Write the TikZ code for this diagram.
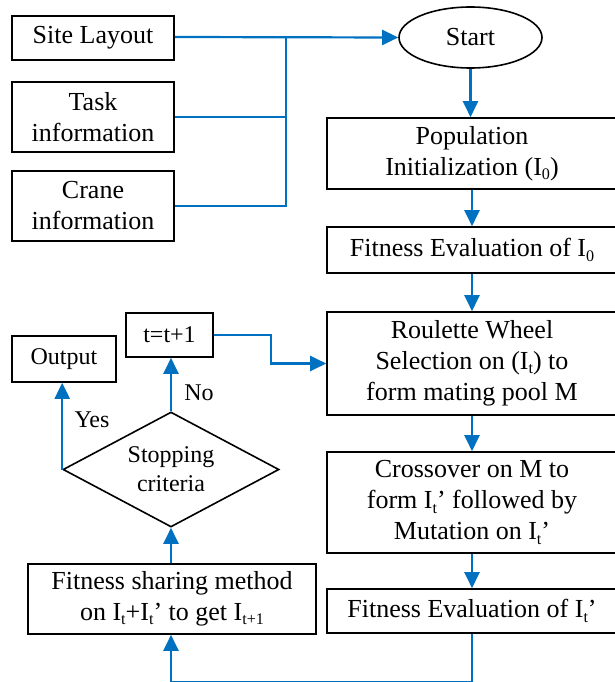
\documentclass[tikz,border=0pt]{standalone}
\usepackage{fontspec}
\setmainfont{Liberation Serif}
\usetikzlibrary{shapes.geometric,arrows.meta}
\definecolor{flowblue}{RGB}{0,112,192}
\newcommand\sbx[1]{\raisebox{-0.35ex}{\scalebox{0.62}{#1}}}
\begin{document}
\begin{tikzpicture}[x=1pt,y=-1pt,
  box/.style={draw=black, line width=1.6pt, rectangle, inner sep=0pt,
    align=center, font=\fontsize{26}{31}\selectfont},
  smallbox/.style={box, font=\fontsize{24}{29}\selectfont},
  flow/.style={draw=flowblue, line width=2.2pt},
  flowarrow/.style={flow, -{Triangle[length=16pt,width=15pt]}},
  lbl/.style={font=\fontsize{24}{29}\selectfont, inner sep=0pt}]
\useasboundingbox (0,0) rectangle (615,682);

% inputs
\node[box, minimum width=162, minimum height=44] (site) at (93,38) {Site Layout};
\node[box, minimum width=162, minimum height=70] (task) at (93,117) {Task\\information};
\node[box, minimum width=162, minimum height=70] (crane) at (93,206) {Crane\\information};

% main column
\node[box, ellipse, minimum width=143, minimum height=61] (start) at (470.5,37.5) {Start};
\node[box, minimum width=290, minimum height=71] (pop) at (472,153.5) {Population\\Initialization (I\sbx{0})};
\node[box, minimum width=290, minimum height=46] (fe0) at (472,250) {Fitness Evaluation of I\sbx{0}};
\node[box, minimum width=290, minimum height=103] (roul) at (472,363.5) {Roulette Wheel\\Selection on (I\sbx{t}) to\\form mating pool M};
\node[box, minimum width=290, minimum height=101] (cross) at (472,502.5) {Crossover on M to\\form I\sbx{t}’ followed by\\Mutation on I\sbx{t}’};
\node[box, minimum width=290, minimum height=44] (fe1) at (472,611) {Fitness Evaluation of I\sbx{t}’};

% loop column
\node[box, minimum width=288, minimum height=70] (share) at (172,599) {Fitness sharing method\\on I\sbx{t}+I\sbx{t}’ to get I\sbx{t+1}};
\node[smallbox, diamond, aspect=1.88, minimum width=216, minimum height=115] (stop) at (171,469.5) {Stopping\\criteria};
\node[smallbox, minimum width=104, minimum height=46] (out) at (64,359) {Output};
\node[smallbox, minimum width=87, minimum height=44] (tinc) at (169.5,335) {t=t+1};

% connectors
\coordinate (join) at (286,37);
\draw[flowarrow] (site.east |- join) -- (start.west);
\draw[flow] (task.east) -- (task.east -| join);
\draw[flow] (crane.east) -| (join);

\draw[flowarrow] (start.south) -- (start.south |- pop.north);
\draw[flowarrow] (pop) -- (fe0);
\draw[flowarrow] (fe0) -- (roul);
\draw[flowarrow] (roul) -- (cross);
\draw[flowarrow] (cross) -- (fe1);
\draw[flowarrow] (fe1.south) -- ++(0,48) -| (share.south -| stop.south);
\draw[flowarrow] (share.north -| stop.north) -- (stop.south);
\draw[flowarrow] (stop.west) -- (stop.west |- out.south);
\draw[flowarrow] (stop.north) -- (stop.north |- tinc.south);
\draw[flowarrow] (tinc.east) -- ++(57,0) |- (roul.west);

% branch labels
\node[lbl] (yes) at (92,420) {Yes};
\node[lbl] (no) at (199,393) {No};
\end{tikzpicture}
\end{document}
